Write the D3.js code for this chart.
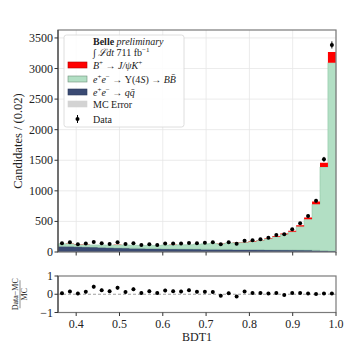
<!DOCTYPE html>
<html>
<head>
<meta charset="utf-8">
<script src="https://cdn.jsdelivr.net/npm/d3@7/dist/d3.min.js"></script>
<style>
   body { margin: 0; background: #fff; }
   text { font-family: "Liberation Serif", "DejaVu Serif", serif; fill: #222; }
</style>
</head>
<body>
<figure style="margin:0"></figure>
<script>

// Bin centres of the BDT1 histogram (35 bins up to 1.0)
const binCenters = [0.3672, 0.3855, 0.4039, 0.4222, 0.4405, 0.4589, 0.4772, 0.4955, 0.5139, 0.5322,
   0.5505, 0.5689, 0.5872, 0.6055, 0.6239, 0.6422, 0.6605, 0.6789, 0.6972, 0.7155,
   0.7339, 0.7522, 0.7705, 0.7889, 0.8072, 0.8255, 0.8439, 0.8622, 0.8805, 0.8989,
   0.9172, 0.9355, 0.9539, 0.9722, 0.9905];
const binWidth = 0.01834;

// Observed data
const dataCounts = [142, 158, 126, 137, 164, 142, 131, 158, 131, 142,
   115, 126, 115, 137, 137, 137, 147, 145, 153, 158,
   126, 158, 136, 185, 191, 207, 234, 278, 289, 371,
   469, 589, 839, 1516, 3386];

// MC components (stacked: qq, BB, signal)
const qqCounts = [96, 92, 88, 84, 80, 76, 72, 68, 65, 62,
   60, 58, 56, 54, 52, 50, 49, 48, 46, 45,
   44, 43, 42, 41, 40, 39, 38, 37, 36, 35,
   33, 31, 28, 24, 18];
const bbCounts = [37, 44, 32, 36, 35, 39, 39, 48, 50, 48,
   47, 49, 51, 59, 64, 68, 69, 78, 87, 93,
   91, 103, 111, 116, 133, 148, 179, 213, 253, 296,
   383, 505, 753, 1366, 3077];
const sigCounts = [1, 1, 1, 1, 1, 1, 1, 1, 1, 1,
   1, 1, 1, 1, 1, 1, 2, 2, 2, 2,
   2, 3, 3, 4, 5, 6, 8, 10, 12, 16,
   22, 30, 44, 70, 175];

const xTicks = [0.4, 0.5, 0.6, 0.7, 0.8, 0.9, 1.0];
const yTicks = [0, 500, 1000, 1500, 2000, 2500, 3000, 3500];
const ratioTicks = [-1, 0, 1];

const W = 357, H = 357;
const mainBox = {left: 58, right: 336, top: 30, bottom: 252};
const ratioBox = {top: 276, bottom: 312.5};

const svg = d3.select("figure").append("svg")
   .attr("width", W).attr("height", H);

const x = d3.scaleLinear().domain([0.358, 1.0]).range([mainBox.left, mainBox.right]);
const y = d3.scaleLinear().domain([0, 3630]).range([mainBox.bottom, mainBox.top]);
const yr = d3.scaleLinear().domain([-1, 1]).range([ratioBox.bottom, ratioBox.top]);

// Grid lines in the main panel
const grid = svg.append("g");
xTicks.forEach(function(t) {
   grid.append("line").attr("x1", x(t)).attr("x2", x(t))
      .attr("y1", mainBox.top).attr("y2", mainBox.bottom)
      .attr("stroke", "#e6e6e6").attr("stroke-width", 0.8);
});
yTicks.forEach(function(t) {
   grid.append("line").attr("x1", mainBox.left).attr("x2", mainBox.right)
      .attr("y1", y(t)).attr("y2", y(t))
      .attr("stroke", "#e6e6e6").attr("stroke-width", 0.8);
});

// Stack the MC components
const rows = binCenters.map(function(c, i) {
   return {c: c, qq: qqCounts[i], bb: bbCounts[i], sig: sigCounts[i]};
});
const stack = d3.stack().keys(["qq", "bb", "sig"]);
const layers = stack(rows);

const colors = {qq: "#3a4a73", bb: "#b2dfc4", sig: "#ff0000"};
const edges = {qq: "#2d3a5c", bb: "#8fc6a4", sig: "#b40000"};

// Step area: two points per bin
const stepArea = d3.area()
   .x(function(d) { return x(d.x); })
   .y0(function(d) { return y(d.y0); })
   .y1(function(d) { return y(d.y1); });

layers.forEach(function(layer) {
   let pts = [];
   layer.forEach(function(d) {
      pts.push({x: d.data.c - binWidth / 2, y0: d[0], y1: d[1]});
      pts.push({x: d.data.c + binWidth / 2, y0: d[0], y1: d[1]});
   });
   svg.append("path")
      .datum(pts)
      .attr("d", stepArea)
      .attr("fill", colors[layer.key])
      .attr("stroke", edges[layer.key])
      .attr("stroke-width", layer.key == "bb" ? 0.6 : 0);
});

// Data points with sqrt(N) errors
const dataG = svg.append("g");
binCenters.forEach(function(c, i) {
   let n = dataCounts[i], e = Math.sqrt(n);
   dataG.append("line").attr("x1", x(c)).attr("x2", x(c))
      .attr("y1", y(n - e)).attr("y2", y(n + e))
      .attr("stroke", "#000").attr("stroke-width", 1);
   dataG.append("circle").attr("cx", x(c)).attr("cy", y(n)).attr("r", 2).attr("fill", "#000");
});

// Main frame
svg.append("rect").attr("x", mainBox.left).attr("y", mainBox.top)
   .attr("width", mainBox.right - mainBox.left).attr("height", mainBox.bottom - mainBox.top)
   .attr("fill", "none").attr("stroke", "#7a7a7a").attr("stroke-width", 1.2);
svg.append("line").attr("x1", mainBox.left).attr("x2", mainBox.left)
   .attr("y1", mainBox.top).attr("y2", mainBox.bottom).attr("stroke", "#333").attr("stroke-width", 1);

// Main y axis ticks & labels
yTicks.forEach(function(t) {
   svg.append("line").attr("x1", mainBox.left - 3.5).attr("x2", mainBox.left)
      .attr("y1", y(t)).attr("y2", y(t)).attr("stroke", "#333");
   svg.append("text").attr("x", mainBox.left - 5).attr("y", y(t) + 4)
      .attr("text-anchor", "end").attr("font-size", 12).text(t);
});
xTicks.forEach(function(t) {
   svg.append("line").attr("x1", x(t)).attr("x2", x(t))
      .attr("y1", mainBox.bottom).attr("y2", mainBox.bottom + 3.5).attr("stroke", "#333");
});

svg.append("text")
   .attr("transform", "translate(" + 22 + "," + ((mainBox.top + mainBox.bottom) / 2) + ") rotate(-90)")
   .attr("text-anchor", "middle").attr("font-size", 12.5)
   .text("Candidates / (0.02)");

// Ratio panel
const ratioG = svg.append("g");
ratioG.append("line").attr("x1", mainBox.left).attr("x2", mainBox.right)
   .attr("y1", yr(0)).attr("y2", yr(0))
   .attr("stroke", "#888").attr("stroke-width", 0.8).attr("stroke-dasharray", "3,2");
binCenters.forEach(function(c, i) {
   let mc = qqCounts[i] + bbCounts[i] + sigCounts[i];
   let r = (dataCounts[i] - mc) / mc;
   let e = Math.sqrt(dataCounts[i]) / mc;
   ratioG.append("line").attr("x1", x(c)).attr("x2", x(c))
      .attr("y1", yr(r - e)).attr("y2", yr(r + e))
      .attr("stroke", "#000").attr("stroke-width", 0.6);
   ratioG.append("circle").attr("cx", x(c)).attr("cy", yr(r)).attr("r", 2).attr("fill", "#000");
});
svg.append("rect").attr("x", mainBox.left).attr("y", ratioBox.top)
   .attr("width", mainBox.right - mainBox.left).attr("height", ratioBox.bottom - ratioBox.top)
   .attr("fill", "none").attr("stroke", "#7a7a7a").attr("stroke-width", 1.2);
svg.append("line").attr("x1", mainBox.left).attr("x2", mainBox.left)
   .attr("y1", ratioBox.top).attr("y2", ratioBox.bottom).attr("stroke", "#333").attr("stroke-width", 1);

ratioTicks.forEach(function(t) {
   svg.append("line").attr("x1", mainBox.left - 3.5).attr("x2", mainBox.left)
      .attr("y1", yr(t)).attr("y2", yr(t)).attr("stroke", "#333");
   svg.append("text").attr("x", mainBox.left - 5).attr("y", yr(t) + 4)
      .attr("text-anchor", "end").attr("font-size", 12).text(t < 0 ? "\u2212" + Math.abs(t) : t);
});
xTicks.forEach(function(t) {
   svg.append("line").attr("x1", x(t)).attr("x2", x(t))
      .attr("y1", ratioBox.bottom).attr("y2", ratioBox.bottom + 3.5).attr("stroke", "#333");
   svg.append("text").attr("x", x(t)).attr("y", ratioBox.bottom + 15)
      .attr("text-anchor", "middle").attr("font-size", 12).text(d3.format(".1f")(t));
});

svg.append("text").attr("x", (mainBox.left + mainBox.right) / 2).attr("y", 341)
   .attr("text-anchor", "middle").attr("font-size", 12).text("BDT1");

// Ratio y label as a fraction
const frac = svg.append("g")
   .attr("transform", "translate(20," + yr(0) + ") rotate(-90)");
frac.append("text").attr("x", 0).attr("y", -2).attr("text-anchor", "middle")
   .attr("font-size", 8).text("Data\u2212MC");
frac.append("line").attr("x1", -14).attr("x2", 14).attr("y1", 0).attr("y2", 0)
   .attr("stroke", "#222").attr("stroke-width", 0.5);
frac.append("text").attr("x", 0).attr("y", 7).attr("text-anchor", "middle")
   .attr("font-size", 8).text("MC");


// Write text made of plain, italic, bold and superscript parts.
function mathText(sel, tx, ty, parts, size) {
   let t = sel.append("text").attr("x", tx).attr("y", ty).attr("font-size", size);
   let shifted = 0;
   parts.forEach(function(p) {
      let s = t.append("tspan").text(p.t);
      if (p.i) s.attr("font-style", "italic");
      if (p.b) s.attr("font-weight", "bold");
      if (p.sup) {
         s.attr("dy", -size * 0.38 - shifted).attr("font-size", size * 0.7);
         shifted = -size * 0.38;
      }
      else if (shifted != 0) {
         s.attr("dy", -shifted);
         shifted = 0;
      }
   });
   return t;
}

// Legend
const leg = svg.append("g");
leg.append("rect").attr("x", 64).attr("y", 35).attr("width", 120).attr("height", 92)
   .attr("rx", 2.5).attr("fill", "#fff").attr("fill-opacity", 0.85)
   .attr("stroke", "#d6d6d6").attr("stroke-width", 0.8);

const lx = 93, fs = 10;
mathText(leg, lx, 45, [{t: "Belle ", b: true}, {t: "preliminary", i: true}], fs);
mathText(leg, lx, 56, [{t: "\u222B "}, {t: "\u2112dt", i: true}, {t: " 711 fb"}, {t: "\u22121", sup: true}], fs);

const legendRows = [
   {y: 65, fill: colors.sig, stroke: edges.sig,
      parts: [{t: "B", i: true}, {t: "+", sup: true}, {t: " \u2192 "}, {t: "J/\u03C8K", i: true}, {t: "+", sup: true}]},
   {y: 79, fill: colors.bb, stroke: "#6f8f7b",
      parts: [{t: "e", i: true}, {t: "+", sup: true}, {t: "e", i: true}, {t: "\u2212", sup: true},
         {t: " \u2192 \u03A5(4"}, {t: "S", i: true}, {t: ") \u2192 "}, {t: "BB\u0304", i: true}]},
   {y: 92, fill: colors.qq, stroke: "#2d3a5c",
      parts: [{t: "e", i: true}, {t: "+", sup: true}, {t: "e", i: true}, {t: "\u2212", sup: true},
         {t: " \u2192 "}, {t: "qq\u0304", i: true}]},
   {y: 104, fill: "#d3d3d3", stroke: "#d3d3d3", parts: [{t: "MC Error"}]}
];
legendRows.forEach(function(r) {
   leg.append("rect").attr("x", 68).attr("y", r.y - 3).attr("width", 19).attr("height", 6)
      .attr("fill", r.fill).attr("stroke", r.stroke).attr("stroke-width", 0.6);
   mathText(leg, lx, r.y + 3.5, r.parts, fs);
});
// Data marker entry
leg.append("line").attr("x1", 77.5).attr("x2", 77.5).attr("y1", 115).attr("y2", 123)
   .attr("stroke", "#000").attr("stroke-width", 1);
leg.append("circle").attr("cx", 77.5).attr("cy", 119).attr("r", 2).attr("fill", "#000");
mathText(leg, lx, 122.5, [{t: "Data"}], fs);

</script>
</body>
</html>
